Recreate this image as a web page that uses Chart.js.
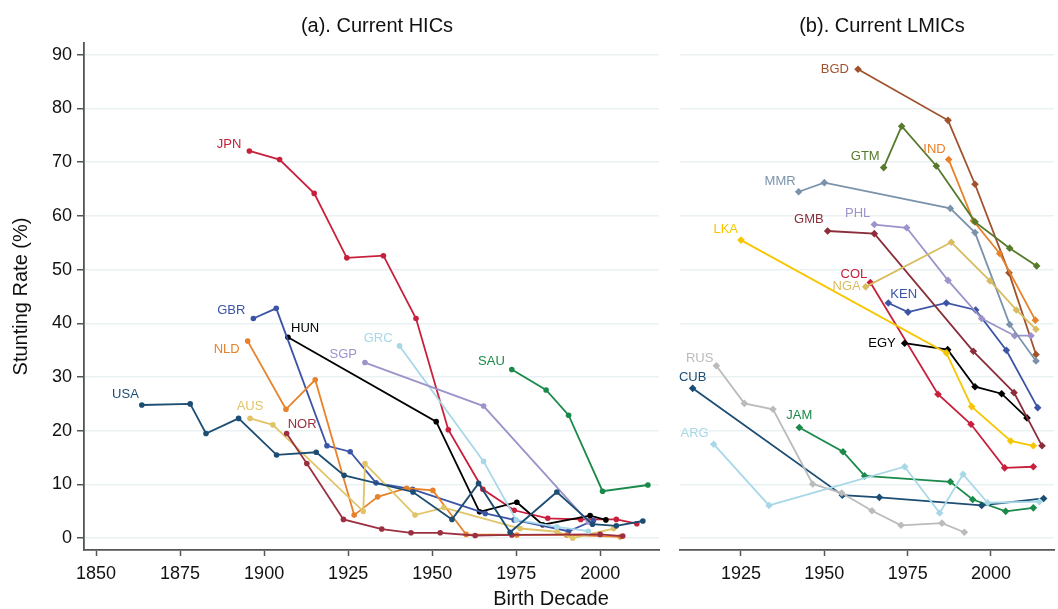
<!DOCTYPE html>
<html>
<head>
<meta charset="utf-8">
<title>Stunting Rate by Birth Decade</title>
<script src="https://cdn.jsdelivr.net/npm/chart.js"></script>
<style>
    body { margin: 0; background: #ffffff; font-family: 'Liberation Sans', Arial, sans-serif; }
    .wrap { position: relative; width: 1058px; height: 609px; overflow: hidden; }
    canvas { position: absolute; top: 0; }
    #hicChart { left: 0; }
    #lmicChart { left: 665px; }
    .txt { position: absolute; color: #111; font-size: 20px; white-space: nowrap; transform: translate(-50%, -50%); }
</style>
</head>
<body>
<div class="wrap">
    <canvas id="hicChart" width="665" height="609"></canvas>
    <canvas id="lmicChart" width="393" height="609"></canvas>
    <div class="txt" style="left:377px; top:25px;">(a). Current HICs</div>
    <div class="txt" style="left:882px; top:25px;">(b). Current LMICs</div>
    <div class="txt" style="left:551px; top:598px;">Birth Decade</div>
</div>

<script>
// Tick labels
const yTicks = [0, 10, 20, 30, 40, 50, 60, 70, 80, 90];
const hicYearTicks = [1850, 1875, 1900, 1925, 1950, 1975, 2000];
const lmicYearTicks = [1925, 1950, 1975, 2000];

// (a) Current HICs -- [birth decade, stunting rate %]
const USA = [[1863.6,24.8],[1878,25.0],[1882.7,19.5],[1892.4,22.3],[1903.7,15.5],[1915.5,16.0],[1923.8,11.7],[1944.3,8.6],[1955.9,3.5],[1963.8,10.2],[1973.2,1.1],[1987.1,8.6],[1997.7,2.6],[2004.8,2.3],[2012.7,3.2]];
const JPN = [[1895.6,72.1],[1904.6,70.5],[1914.9,64.2],[1924.6,52.2],[1935.5,52.6],[1945.2,40.9],[1954.8,20.2],[1965.1,9.1],[1974.4,5.2],[1984.4,3.7],[1994.2,3.5],[2004.8,3.5],[2010.9,2.7]];
const GBR = [[1896.8,40.9],[1903.6,42.8],[1918.7,17.2],[1925.6,16.1],[1933.3,10.3],[1944.2,9.1],[1965.8,4.6],[1974.4,3.4],[1990.6,1.3],[1998,3.3]];
const NLD = [[1895.1,36.7],[1906.5,24.0],[1915.2,29.5],[1926.8,4.3],[1933.8,7.7],[1942.4,9.3],[1950.2,8.9],[1960.1,0.7],[1975.2,0.6],[1990,0.6],[2006,0.25]];
const HUN = [[1907.1,37.4],[1951.2,21.7],[1964.1,4.9],[1975.2,6.7],[1982.9,2.5],[1997,4.2],[2001.7,3.4]];
const AUS = [[1895.8,22.3],[1902.6,21.1],[1929.5,5.0],[1930,13.9],[1944.9,4.3],[1953.5,5.7],[1976.2,1.8],[1987.2,1.2],[1991.8,0],[2004,1.8]];
const NOR = [[1906.7,19.5],[1912.7,13.9],[1923.6,3.5],[1935,1.7],[1943.7,1.0],[1952.4,1.0],[1962.8,0.5],[1973.7,0.6],[2000,0.7],[2006.7,0.4]];
const GRC = [[1940.3,35.8],[1965.3,14.3],[1975,3.4],[1987.1,2.1],[1996.5,1.3]];
const SGP = [[1930,32.7],[1965.3,24.6],[1996.5,3.0]];
const SAU = [[1973.7,31.4],[1983.9,27.6],[1990.6,22.9],[2000.7,8.75],[2014.2,9.9]];

// (b) Current LMICs
const BGD = [[1960.1,87.3],[1987.1,77.8],[1995.2,65.9],[2005.4,49.4],[2013.5,34.2]];
const GTM = [[1967.8,69.0],[1973.2,76.7],[1983.6,69.3],[1995.2,58.9],[2005.6,54.0],[2013.7,50.7]];
const IND = [[1987.3,70.5],[1994.7,59.1],[2002.6,53.0],[2013.3,40.6]];
const MMR = [[1942.3,64.5],[1950,66.2],[1987.8,61.4],[1995.2,56.9],[2005.6,39.8],[2013.5,33.0]];
const PHL = [[1965,58.4],[1974.7,57.8],[1987.1,48.0],[1997.2,40.9],[2007.1,37.7],[2012,37.7]];
const GMB = [[1951,57.2],[1965,56.7],[1994.7,34.8],[2006.9,27.1],[2015.3,17.2]];
const LKA = [[1925,55.5],[1986.6,34.5],[1994.2,24.5],[2005.9,18.1],[2012.7,17.2]];
const NGA = [[1962.4,46.8],[1988.1,55.1],[1999.7,47.9],[2007.6,42.5],[2013.5,38.9]];
const COL = [[1963.8,47.6],[1984.1,26.8],[1994,21.2],[2004.1,13.1],[2012.7,13.3]];
const KEN = [[1969.2,43.8],[1975.1,42.1],[1986.6,43.8],[1995.4,42.5],[2004.6,35.0],[2014,24.3]];
const EGY = [[1974.1,36.3],[1987,35.1],[1995.2,28.2],[2003.2,26.9],[2010.8,22.4]];
const RUS = [[1917.6,32.1],[1926,25.1],[1934.6,24.0],[1946.5,10.1],[1955.2,8.4],[1964.3,5.1],[1973,2.4],[1985.3,2.8],[1992,1.1]];
const CUB = [[1910.5,27.9],[1955.4,8.0],[1966.5,7.6],[1997.2,6.1],[2015.8,7.4]];
const ARG = [[1916.8,17.5],[1933.4,6.1],[1974.1,13.3],[1984.6,4.7],[1991.6,11.9],[1999,6.6],[2014.5,6.8]];
const JAM = [[1942.5,20.6],[1955.6,16.1],[1962.1,11.6],[1987.8,10.5],[1994.5,7.2],[2004.4,5.0],[2012.7,5.65]];

// Series colours and where each country code sits next to its first point
const colors = {
    USA: '#1c4d73', JPN: '#c8203c', GBR: '#3b54a6', NLD: '#e8822a', HUN: '#000000',
    AUS: '#e0c468', NOR: '#9b3040', GRC: '#a8d8e8', SGP: '#9d93ca', SAU: '#1a8a4a',
    BGD: '#a0522d', GTM: '#557a2b', IND: '#e8822a', MMR: '#7a93ab', PHL: '#9d93ca',
    GMB: '#8b2e3a', LKA: '#f7c600', NGA: '#d8bc60', COL: '#c8203c', KEN: '#3b54a6',
    EGY: '#000000', RUS: '#bbbbbb', CUB: '#1c4d73', ARG: '#a8d8e8', JAM: '#1a8a4a'
};
const labelPos = {
    USA: [-3, -11, 'right'], JPN: [-8, -7, 'right'], GBR: [-8, -8, 'right'], NLD: [-8, 8, 'right'],
    HUN: [3, -9, 'left'], AUS: [0, -12, 'center'], NOR: [1, -9, 'left'], GRC: [-7, -7, 'right'],
    SGP: [-8, -8, 'right'], SAU: [-7, -8, 'right'],
    BGD: [-9, 0, 'right'], GTM: [-4, -11, 'right'], IND: [-3, -10, 'right'], MMR: [-3, -10, 'right'],
    PHL: [-4, -11, 'right'], GMB: [-4, -12, 'right'], LKA: [-3, -11, 'right'], COL: [-3, -8, 'right'],
    NGA: [-5, 0, 'right'], KEN: [2, -9, 'left'], EGY: [-9, 0, 'right'], RUS: [-3, -7, 'right'],
    CUB: [0, -11, 'center'], ARG: [-5, -11, 'right'], JAM: [0, -12, 'center']
};

const hicSeries = { USA, SAU, SGP, GRC, NOR, AUS, NLD, GBR, HUN, JPN };
const lmicSeries = { ARG, RUS, CUB, JAM, LKA, NGA, MMR, PHL, GMB, EGY, KEN, COL, GTM, IND, BGD };

const FONT = "'Liberation Sans', Arial, sans-serif";
const AXIS = '#555555';
const GRID = '#e9f1f3';

function makeDatasets(series, pointStyle, radius) {
    return Object.keys(series).map(code => ({
        label: code,
        data: series[code].map(([x, y]) => ({ x, y })),
        borderColor: colors[code],
        backgroundColor: colors[code],
        borderWidth: 1.8,
        pointStyle: pointStyle,
        pointRadius: radius,
        pointBorderWidth: 0,
        tension: 0
    }));
}

// Writes the country code next to the first point of each line
const codeLabels = {
    id: 'codeLabels',
    afterDatasetsDraw(chart) {
        const ctx = chart.ctx;
        ctx.save();
        ctx.font = '13px ' + FONT;
        ctx.textBaseline = 'middle';
        chart.data.datasets.forEach((ds, i) => {
            const first = chart.getDatasetMeta(i).data[0];
            const [dx, dy, align] = labelPos[ds.label];
            ctx.fillStyle = colors[ds.label];
            ctx.textAlign = align;
            ctx.fillText(ds.label, first.x + dx, first.y + dy);
        });
        ctx.restore();
    }
};

function makeChart(id, series, opts) {
    return new Chart(document.getElementById(id), {
        type: 'line',
        data: { datasets: makeDatasets(series, opts.pointStyle, opts.radius) },
        options: {
            responsive: false,
            animation: false,
            layout: { padding: { top: 43, right: opts.padRight, left: 0, bottom: 0 } },
            plugins: { legend: { display: false }, tooltip: { enabled: false } },
            scales: {
                x: {
                    type: 'linear',
                    min: opts.xMin,
                    max: opts.xMax,
                    afterBuildTicks: s => { s.ticks = opts.xTicks.map(v => ({ value: v })); },
                    afterFit: s => { s.height = 59; },
                    grid: { drawOnChartArea: false, tickColor: AXIS, tickLength: 6, tickWidth: 1.5 },
                    border: { color: AXIS, width: 1.8 },
                    ticks: { color: '#111', font: { family: FONT, size: 18 }, padding: 7, maxRotation: 0, callback: v => String(v) }
                },
                y: {
                    min: -2.2,
                    max: 92.2,
                    afterBuildTicks: s => { s.ticks = yTicks.map(v => ({ value: v })); },
                    afterFit: s => { s.width = opts.yWidth; },
                    grid: { color: GRID, lineWidth: 1.5, tickColor: AXIS, tickLength: opts.showY ? 7 : 0, tickWidth: 1.5, drawTicks: opts.showY },
                    border: { display: opts.showY, color: AXIS, width: 1.8 },
                    ticks: { display: opts.showY, color: '#111', font: { family: FONT, size: 18 }, padding: 5 },
                    title: {
                        display: opts.showY,
                        text: 'Stunting Rate (%)',
                        color: '#111',
                        font: { family: FONT, size: 20 },
                        padding: { top: 9, bottom: 0 }
                    }
                }
            }
        },
        plugins: [codeLabels]
    });
}

makeChart('hicChart', hicSeries, {
    pointStyle: 'circle', radius: 2.8, padRight: 6,
    xMin: 1846.4, xMax: 2017.5, xTicks: hicYearTicks, yWidth: 84, showY: true
});

makeChart('lmicChart', lmicSeries, {
    pointStyle: 'rectRot', radius: 3.8, padRight: 0,
    xMin: 1906.7, xMax: 2018.9, xTicks: lmicYearTicks, yWidth: 15, showY: false
});
</script>
</body>
</html>
